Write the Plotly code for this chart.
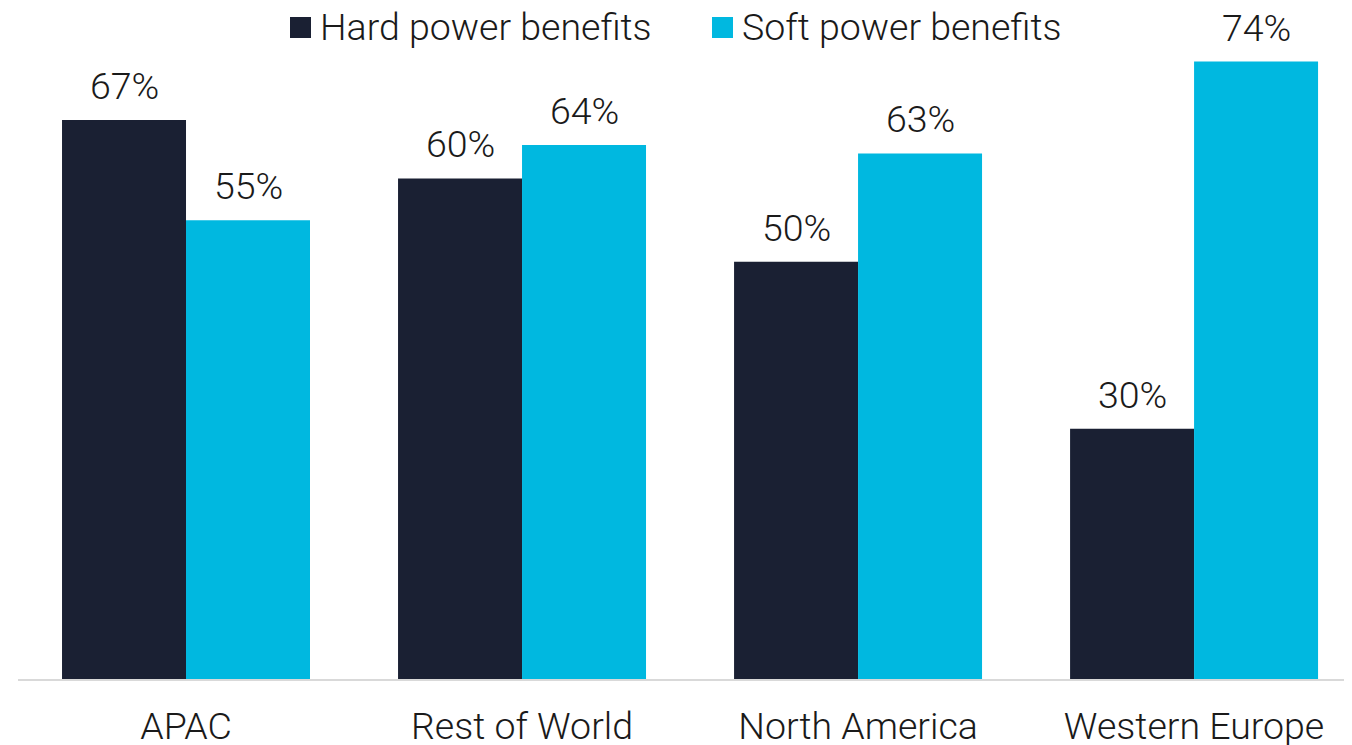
import plotly.graph_objects as go

categories = ["APAC", "Rest of World", "North America", "Western Europe"]
hard = [67, 60, 50, 30]
soft = [55, 64, 63, 74]
series_names = ["Hard power benefits", "Soft power benefits"]
series_values = [hard, soft]
series_colors = ["#1a2033", "#00b8e0"]

FS = 37.5
FONT = dict(family="Roboto", size=FS, color="#1a1a1a", weight=300)

# page geometry (the html body adds an 8px offset)
W, H = 1344, 737
ML, MR, MT, MB = 10, 0, 0, 66
OFF = 8
PX0, PX1 = OFF + ML, OFF + W - MR          # plot area left/right on page
PY0, PY1 = OFF + MT, OFF + H - MB          # plot area top/bottom on page

def px_to_paper_x(px):
    return (px - PX0) / (PX1 - PX0)

def py_to_paper_y(py):
    return (PY1 - py) / (PY1 - PY0)

fig = go.Figure()
for name, vals, col in zip(series_names, series_values, series_colors):
    fig.add_trace(go.Bar(x=categories, y=vals, name=name, showlegend=False,
                         marker=dict(color=col, line=dict(width=0))))

annotations = []
shifts = [-62, 62]
for vals, shift in zip(series_values, shifts):
    for c, v in zip(categories, vals):
        annotations.append(dict(x=c, y=v, xref="x", yref="y", text=f"{v}%", showarrow=False,
                                xanchor="center", yanchor="bottom", xshift=shift, yshift=10,
                                font=FONT))

# manual legend (larger squares than plotly's native legend allows)
shapes = []
legend_sq_left = [290, 712]
for name, col, sx in zip(series_names, series_colors, legend_sq_left):
    shapes.append(dict(type="rect", xref="paper", yref="paper",
                       x0=px_to_paper_x(sx), x1=px_to_paper_x(sx + 21),
                       y0=py_to_paper_y(38), y1=py_to_paper_y(17),
                       fillcolor=col, line=dict(width=0)))
    annotations.append(dict(x=px_to_paper_x(sx + 28), y=py_to_paper_y(27), xref="paper", yref="paper",
                            text=name, showarrow=False, xanchor="left", yanchor="middle", font=FONT))

fig.update_layout(
    width=W, height=H,
    margin=dict(l=ML, r=MR, t=MT, b=MB, autoexpand=False),
    paper_bgcolor="white", plot_bgcolor="white",
    barmode="group", bargap=0.262, bargroupgap=0,
    font=FONT,
    showlegend=False,
    annotations=annotations,
    shapes=shapes,
    xaxis=dict(type="category", range=[-0.5, 3.47], showline=True, linecolor="#d9d9d9", linewidth=2,
               showgrid=False, zeroline=False, ticks="", ticklabelstandoff=13, automargin=False,
               tickfont=FONT),
    yaxis=dict(range=[0, (PY1 - PY0) / 8.343], visible=False, showgrid=False, zeroline=False,
               automargin=False),
)

fig.write_html("out.html")
